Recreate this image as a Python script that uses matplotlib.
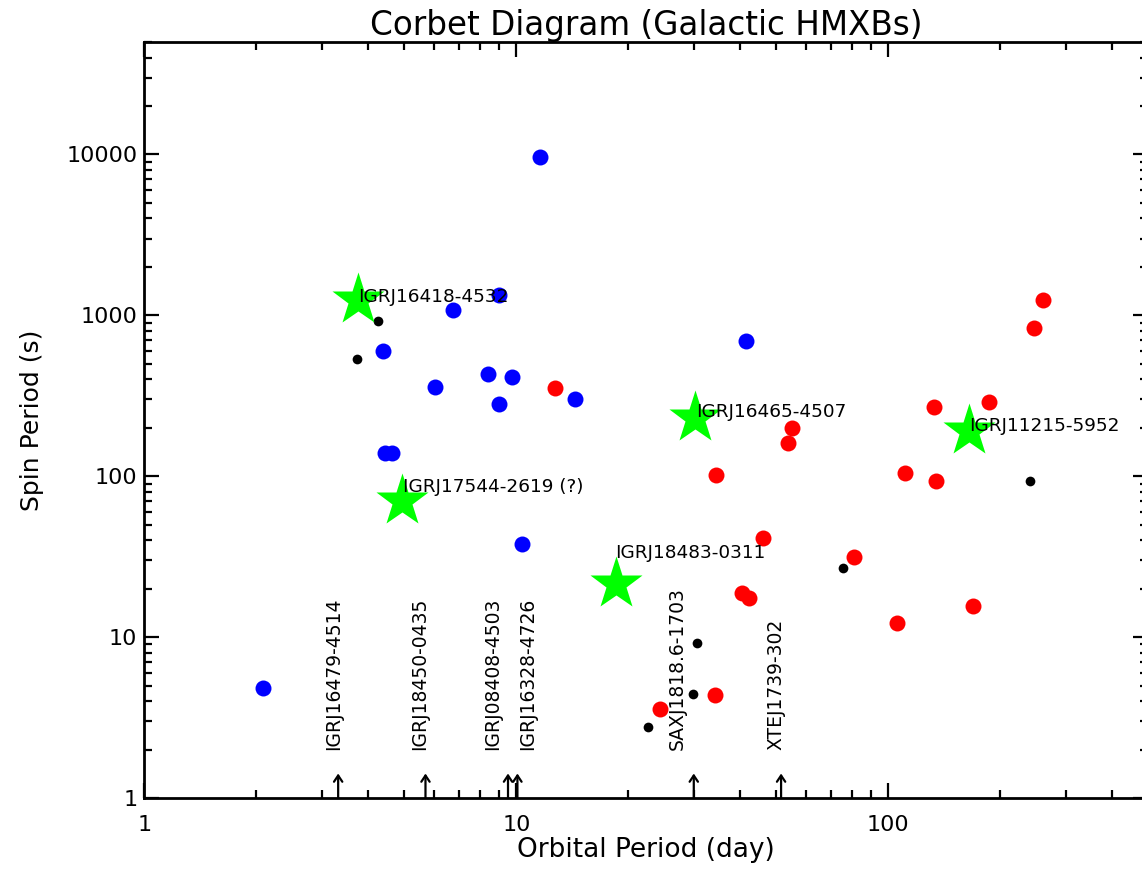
import matplotlib
matplotlib.use("Agg")
import matplotlib.pyplot as plt
from matplotlib.ticker import FixedLocator, FixedFormatter, LogLocator, NullFormatter

# ---------------- data ----------------
blue_porb = [2.08, 11.58, 4.38, 6.76, 8.98, 6.05, 8.39, 9.74, 8.98, 4.44, 4.63, 14.38, 41.4, 10.36]
blue_pspin = [4.83, 9610, 604, 1072, 1330, 361, 435, 411, 283, 140, 140, 300, 688, 38.1]

red_porb = [12.7, 55.1, 53.9, 34.4, 46.0, 80.9, 40.4, 42.2, 34.2, 24.3, 260.6, 246, 186.6, 132.7, 110.9, 134.4, 169, 105.5]
red_pspin = [356, 198, 162, 102, 41.5, 31.6, 18.9, 17.6, 4.38, 3.58, 1238, 829, 291, 271, 104, 94, 15.7, 12.3]

black_porb = [4.25, 3.73, 240.4, 75.5, 30.6, 29.9, 22.6]
black_pspin = [916, 532, 94, 27.0, 9.2, 4.44, 2.77]

star_names = ["IGRJ16418-4532", "IGRJ17544-2619 (?)", "IGRJ16465-4507", "IGRJ18483-0311", "IGRJ11215-5952"]
star_porb = [3.75, 4.93, 30.2, 18.5, 164.6]
star_pspin = [1240, 70.5, 230, 21.3, 190]

limit_names = ["IGRJ16479-4514", "IGRJ18450-0435", "IGRJ08408-4503", "IGRJ16328-4726", "SAXJ1818.6-1703", "XTEJ1739-302"]
limit_porb = [3.32, 5.7, 9.5, 10.07, 30.0, 51.5]

ytick_vals = [1, 10, 100, 1000, 10000]
ytick_labels = ["1", "10", "100", "1000", "10000"]
xtick_vals = [1, 10, 100]
xtick_labels = ["1", "10", "100"]

# ---------------- layout ----------------
star_label_off_px = [(0, 3), (1, 14), (1, 6), (-1, 31), (0, 5)]
limit_label_dx_px = [-5, -6, -15, 10, -17, -5]

plt.rcParams['font.family'] = ['DejaVu Sans']
fig = plt.figure(figsize=(11.42, 8.82), dpi=100)
L, R, B, T = 144.3, 1148.3, 798, 42
ax = fig.add_axes([L/1142, 1-B/882, (R-L)/1142, (B-T)/882])
ax.set_xscale('log')
ax.set_yscale('log')
ax.set_xlim(1, 500)
ax.set_ylim(1, 50000)

px2pt = 72/100.

ax.plot(blue_porb, blue_pspin, 'o', color='#0000ff', ms=11.5, mec='none', zorder=3)
ax.plot(red_porb, red_pspin, 'o', color='#ff0000', ms=11.5, mec='none', zorder=3)
ax.plot(black_porb, black_pspin, 'o', color='black', ms=7, mec='none', zorder=4)
ax.plot(star_porb, star_pspin, '*', color='#00ff00', ms=40, mec='none', zorder=5)

for name, x, y, (dx, dy) in zip(star_names, star_porb, star_pspin, star_label_off_px):
    ax.annotate(name, xy=(x, y), xytext=(dx*px2pt, dy*px2pt), textcoords='offset points',
                ha='left', va='center', fontsize=13.3, zorder=6)

for name, x, dx in zip(limit_names, limit_porb, limit_label_dx_px):
    ax.annotate('', xy=(x, 1.42), xytext=(x, 1.0),
                arrowprops=dict(arrowstyle='->,head_length=0.45,head_width=0.3', lw=1.6, color='black',
                                shrinkA=0, shrinkB=0))
    ax.annotate(name, xy=(x, 2.0), xytext=(dx*px2pt, 0), textcoords='offset points',
                rotation=90, ha='center', va='bottom', fontsize=13.5)

for s in ax.spines.values():
    s.set_linewidth(2)

ax.xaxis.set_major_locator(FixedLocator(xtick_vals))
ax.xaxis.set_major_formatter(FixedFormatter(xtick_labels))
ax.xaxis.set_minor_locator(LogLocator(base=10, subs=range(2, 10), numticks=20))
ax.xaxis.set_minor_formatter(NullFormatter())
ax.yaxis.set_major_locator(FixedLocator(ytick_vals))
ax.yaxis.set_major_formatter(FixedFormatter(ytick_labels))
ax.yaxis.set_minor_locator(LogLocator(base=10, subs=range(2, 10), numticks=20))
ax.yaxis.set_minor_formatter(NullFormatter())

ax.tick_params(which='both', direction='in', top=True, right=True, width=1.6, labelsize=16)
ax.tick_params(which='major', length=11)
ax.tick_params(which='minor', length=5.5)
ax.tick_params(axis='x', which='major', pad=12)
ax.tick_params(axis='y', which='major', pad=5)

ax.set_title("Corbet Diagram (Galactic HMXBs)", fontsize=23.5, pad=5)
ax.set_xlabel("Orbital Period (day)", fontsize=19, labelpad=2)
ax.set_ylabel("Spin Period (s)", fontsize=18, labelpad=16)

fig.savefig("out.png", dpi=100)
